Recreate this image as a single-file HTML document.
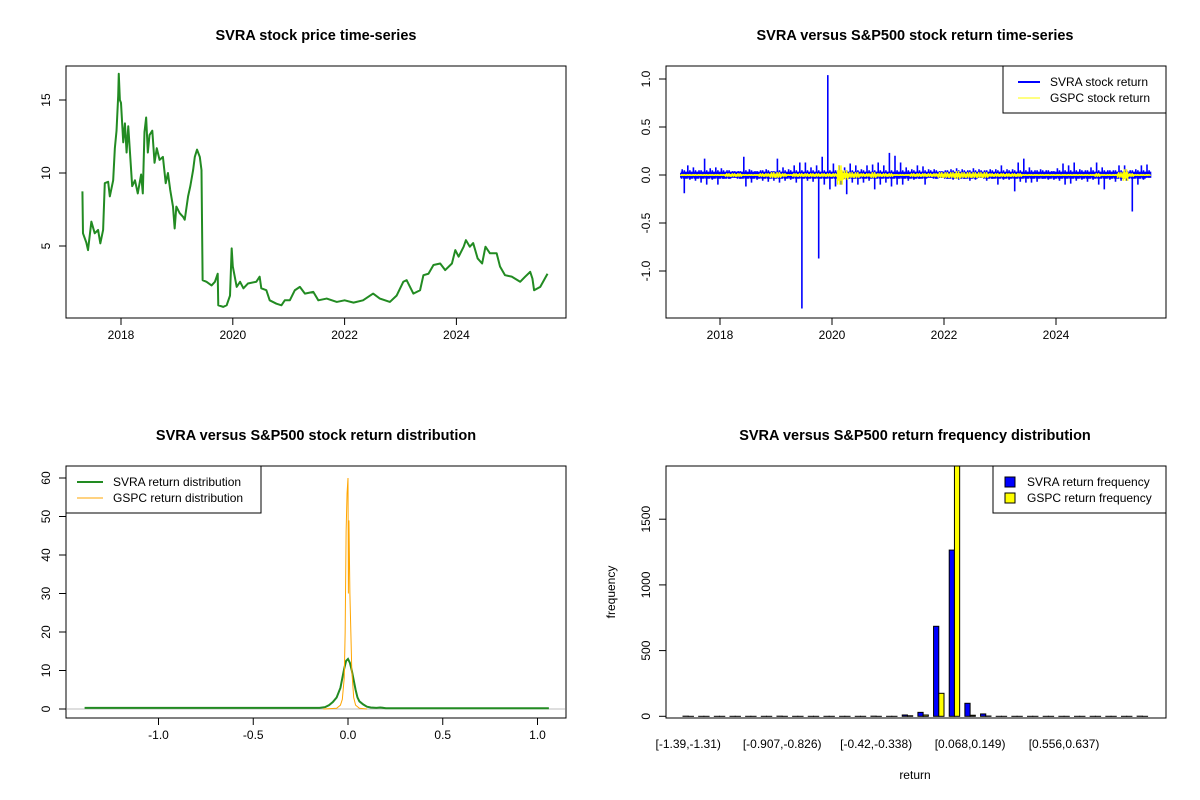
<!DOCTYPE html>
<html><head><meta charset="utf-8"><style>
html,body{margin:0;padding:0;background:#fff;}
svg{display:block;font-family:"Liberation Sans",Arial,sans-serif;}
</style></head><body>
<svg id="c" width="1200" height="800" viewBox="0 0 1200 800"></svg>
<script>
// ---- Panel 1: price data ----
const priceDates=[2017.31,2017.32,2017.38,2017.41,2017.47,2017.53,2017.59,2017.63,2017.68,2017.71,2017.77,2017.8,2017.86,2017.89,2017.92,2017.95,2017.96,2017.98,2018.0,2018.04,2018.07,2018.1,2018.13,2018.2,2018.25,2018.3,2018.36,2018.39,2018.42,2018.45,2018.48,2018.51,2018.56,2018.6,2018.64,2018.69,2018.75,2018.8,2018.84,2018.88,2018.93,2018.96,2018.99,2019.05,2019.11,2019.14,2019.2,2019.24,2019.29,2019.32,2019.36,2019.41,2019.44,2019.46,2019.53,2019.62,2019.68,2019.73,2019.74,2019.83,2019.89,2019.95,2019.98,2020.0,2020.07,2020.13,2020.19,2020.27,2020.42,2020.48,2020.51,2020.6,2020.66,2020.78,2020.87,2020.93,2021.02,2021.11,2021.2,2021.29,2021.44,2021.53,2021.68,2021.86,2022.0,2022.16,2022.33,2022.51,2022.63,2022.81,2022.93,2023.05,2023.11,2023.23,2023.35,2023.41,2023.5,2023.59,2023.71,2023.8,2023.92,2023.98,2024.04,2024.13,2024.17,2024.24,2024.3,2024.38,2024.46,2024.52,2024.6,2024.72,2024.78,2024.87,2024.99,2025.14,2025.23,2025.32,2025.36,2025.39,2025.5,2025.63];
const priceVals=[8.74,5.87,5.23,4.72,6.67,5.87,6.1,5.18,6.1,9.3,9.4,8.4,9.5,11.7,12.9,15.3,16.8,15.0,14.8,12.1,13.4,11.4,13.2,9.1,9.5,8.6,9.9,8.6,12.8,13.8,11.4,12.6,12.9,10.7,11.7,10.9,11.1,9.3,10.0,8.85,7.7,6.2,7.7,7.25,7.0,6.8,8.4,9.1,10.2,11.1,11.6,11.1,10.2,2.66,2.55,2.3,2.55,3.1,0.94,0.83,0.94,1.6,4.84,3.6,2.2,2.55,2.1,2.43,2.55,2.9,2.1,1.97,1.28,1.05,0.94,1.28,1.28,1.97,2.2,1.74,1.86,1.28,1.4,1.17,1.28,1.12,1.28,1.74,1.4,1.17,1.6,2.55,2.66,1.74,1.97,3.0,3.1,3.7,3.8,3.35,3.8,4.72,4.27,4.95,5.4,4.95,5.2,4.15,3.8,4.95,4.5,4.5,3.6,3.0,2.9,2.55,2.9,3.23,2.77,1.97,2.2,3.1];
const p1YTicks=[5,10,15];
const yearTicks=[2018,2020,2022,2024];
// ---- Panel 2: return ranges per 0.1-year bin starting 2017.3 ----
const retStart=2017.3, retStep=0.1;
const svraHi=[.06,.1,.08,.05,.17,.07,.08,.07,.05,.04,.04,.19,.06,.04,.05,.06,.04,.17,.08,.06,.1,.13,.13,.08,.1,.19,1.04,.12,.1,.08,.12,.1,.06,.1,.11,.13,.1,.23,.2,.13,.08,.06,.1,.09,.06,.06,.04,.05,.06,.07,.06,.05,.07,.06,.05,.06,.06,.1,.06,.06,.13,.17,.08,.05,.06,.05,.04,.07,.12,.1,.13,.06,.05,.08,.13,.08,.05,.05,.1,.1,.05,.06,.1,.11];
const svraLo=[-.19,-.05,-.06,-.08,-.1,-.05,-.1,-.04,-.04,-.03,-.04,-.12,-.08,-.05,-.06,-.07,-.06,-.08,-.06,-.05,-.08,-1.39,-.06,-.07,-.87,-.1,-.15,-.12,-.1,-.2,-.08,-.1,-.08,-.06,-.15,-.1,-.08,-.12,-.1,-.1,-.06,-.05,-.04,-.1,-.03,-.04,-.03,-.04,-.05,-.05,-.04,-.06,-.05,-.03,-.06,-.04,-.1,-.05,-.05,-.17,-.07,-.08,-.08,-.07,-.04,-.05,-.05,-.06,-.1,-.09,-.06,-.05,-.07,-.05,-.1,-.15,-.05,-.07,-.06,-.06,-.38,-.1,-.05,-.03];
const gspcAmp=[.01,.01,.01,.01,.01,.01,.01,.01,.02,.02,.02,.01,.01,.01,.02,.02,.03,.03,.02,.01,.02,.02,.02,.02,.02,.02,.02,.02,.1,.05,.03,.03,.02,.02,.03,.02,.02,.02,.01,.01,.01,.02,.02,.02,.02,.02,.03,.03,.03,.04,.03,.03,.03,.03,.03,.02,.02,.02,.02,.02,.02,.01,.01,.01,.01,.01,.01,.01,.01,.01,.01,.01,.01,.01,.02,.01,.01,.01,.03,.06,.02,.01,.01,.01];
const p2YTicks=[-1.0,-0.5,0.0,0.5,1.0];
// ---- Panel 3: densities ----
const svraDX=[-1.39,-0.15,-0.12,-0.1,-0.08,-0.06,-0.04,-0.03,-0.02,-0.01,0,0.01,0.02,0.03,0.04,0.05,0.06,0.08,0.1,0.12,0.15,0.17,0.2,1.06];
const svraDY=[0.3,0.3,0.5,1,1.8,3,5.5,8,10.5,12.5,13,12,10,7.5,5,3,2,1.2,0.6,0.4,0.3,0.4,0.2,0.2];
const gspcDX=[-0.13,-0.06,-0.04,-0.03,-0.02,-0.015,-0.01,-0.005,0,0.002,0.005,0.01,0.015,0.02,0.03,0.04,0.06,0.1];
const gspcDY=[0,0.2,1,2.5,8,20,46,56,60,30,49,30,20,10,3,1,0.2,0];
const p3XTicks=[-1.0,-0.5,0.0,0.5,1.0];
const p3YTicks=[0,10,20,30,40,50,60];
// ---- Panel 4: histogram counts ----
const binLabels=["[-1.39,-1.31)","[-0.907,-0.826)","[-0.42,-0.338)","[0.068,0.149)","[0.556,0.637)"];
const binLabelIdx=[0,6,12,18,24];
const svraFreq=[1,0,0,0,0,0,1,0,0,0,0,0,1,0,10,30,685,1265,99,18,0,0,0,0,0,0,0,0,0,1];
const gspcFreq=[0,0,0,0,0,0,0,0,0,0,0,0,0,0,4,10,175,2000,8,2,0,0,0,0,0,0,0,0,0,0];
const p4YTicks=[0,500,1000,1500];

const svg=document.getElementById('c');
const NS='http://www.w3.org/2000/svg';
function mk(tag,attrs,parent){const e=document.createElementNS(NS,tag);for(const k in attrs)e.setAttribute(k,attrs[k]);(parent||svg).appendChild(e);return e;}
function txt(s,x,y,opts,parent){const t=mk('text',Object.assign({x:x,y:y,'font-size':12,'text-anchor':'middle',fill:'#000'},opts||{}),parent);t.textContent=s;return t;}
function box(x0,y0,x1,y1,name){const r=mk('rect',{x:x0,y:y0,width:x1-x0,height:y1-y0,fill:'none',stroke:'#000','stroke-width':1});

}
function yTicks(vals,fy,x0,labels,name){const g=mk('g',{});


vals.forEach((v,i)=>{const y=fy(v);mk('line',{x1:x0-7,x2:x0,y1:y,y2:y,stroke:'#000'},g);
txt(labels?labels[i]:String(v),x0-16,y,{transform:`rotate(-90 ${x0-16} ${y})`},g);});}
function xTicks(vals,fx,y0,labels,name){const g=mk('g',{});


vals.forEach((v,i)=>{const x=fx(v);mk('line',{x1:x,x2:x,y1:y0,y2:y0+7,stroke:'#000'},g);txt(labels?labels[i]:String(v),x,y0+21,{},g);});}
function title(s,cx,name){const t=txt(s,cx,40,{'font-size':14.5,'font-weight':'bold'});

return t;}

// ===== Panel 1 =====
const p1x=d=>121+(d-2018)*55.9, p1y=p=>246-(p-5)*14.6;
title('SVRA stock price time-series',316,'price-chart-title');
box(66,66,566,318,'price-plot-frame');
{const pts=priceDates.map((t,i)=>`${p1x(t)},${p1y(priceVals[i])}`).join(' ');
const pl=mk('polyline',{points:pts,fill:'none',stroke:'#228B22','stroke-width':2,'stroke-linejoin':'round'});

}
yTicks(p1YTicks,p1y,66,null,'price-y-axis');
xTicks(yearTicks,p1x,318,null,'price-x-axis');

// ===== Panel 2 =====
const p2x=d=>720+(d-2018)*56, p2y=v=>175-v*96;
title('SVRA versus S&P500 stock return time-series',915,'return-chart-title');
box(666,66,1166,318,'return-plot-frame');
{const g=mk('g',{});


let d='';svraHi.forEach((h,i)=>{const t=retStart+i*retStep;const n=8;for(let k=0;k<n;k++){const x=p2x(t+k*retStep/n);const hi=k===2?h:Math.min(h,0.02+0.015*(k%3));const lo=k===5?svraLo[i]:Math.max(svraLo[i],-0.015-0.012*((k+1)%3));d+=`M${x},${p2y(hi)}V${p2y(lo)}`;}});
mk('path',{d:d,stroke:'#0000FF','stroke-width':1.6,fill:'none'},g);
const g2=mk('g',{});


let d2='';gspcAmp.forEach((a,i)=>{const t=retStart+i*retStep;for(let k=0;k<5;k++){const x=p2x(t+k*retStep/5);d2+=`M${x},${p2y(k%2?a:a*0.5)}V${p2y(k%2?-a*0.6:-a)}`;}});
mk('path',{d:d2,stroke:'#FFFF00','stroke-width':1.5,fill:'none'},g2);
mk('line',{x1:p2x(retStart),x2:p2x(2025.65),y1:p2y(0),y2:p2y(0),stroke:'#FFFF00','stroke-width':1.5},g2);}
yTicks(p2YTicks,p2y,666,['-1.0','-0.5','0.0','0.5','1.0'],'return-y-axis');
xTicks(yearTicks,p2x,318,null,'return-x-axis');
{const g=mk('g',{});


mk('rect',{x:1003,y:66,width:163,height:47,fill:'#fff',stroke:'#000'},g);
mk('line',{x1:1018,x2:1040,y1:82,y2:82,stroke:'#0000FF','stroke-width':2},g);
mk('line',{x1:1018,x2:1040,y1:98,y2:98,stroke:'#FFFF00','stroke-width':1},g);
txt('SVRA stock return',1050,86,{'text-anchor':'start'},g);
txt('GSPC stock return',1050,102,{'text-anchor':'start'},g);}

// ===== Panel 3 =====
const p3x=v=>348+v*189.5, p3y=d=>709-d*3.85;
title('SVRA versus S&P500 stock return distribution',316,'distribution-chart-title').setAttribute('y',440);
box(66,466,566,718,'distribution-plot-frame');
{const ab=mk('line',{x1:67,x2:565,y1:p3y(0),y2:p3y(0),stroke:'#BEBEBE','stroke-width':1});


const pts=svraDX.map((x,i)=>`${p3x(x)},${p3y(svraDY[i])}`).join(' ');
const l=mk('polyline',{points:pts,fill:'none',stroke:'#228B22','stroke-width':2});


const pts2=gspcDX.map((x,i)=>`${p3x(x)},${p3y(gspcDY[i])}`).join(' ');
const l2=mk('polyline',{points:pts2,fill:'none',stroke:'#FFA500','stroke-width':1});

}
yTicks(p3YTicks,p3y,66,null,'distribution-y-axis');
xTicks(p3XTicks,p3x,718,['-1.0','-0.5','0.0','0.5','1.0'],'distribution-x-axis');
{const g=mk('g',{});


mk('rect',{x:66,y:466,width:195,height:47,fill:'#fff',stroke:'#000'},g);
mk('line',{x1:77,x2:103,y1:482,y2:482,stroke:'#228B22','stroke-width':2},g);
mk('line',{x1:77,x2:103,y1:498,y2:498,stroke:'#FFA500','stroke-width':1},g);
txt('SVRA return distribution',113,486,{'text-anchor':'start'},g);
txt('GSPC return distribution',113,502,{'text-anchor':'start'},g);}

// ===== Panel 4 =====
const unit=5.22, barX0=683;
const p4y=v=>716.3-v*0.1314;
const gx=k=>barX0+3*k*unit;
title('SVRA versus S&P500 return frequency distribution',915,'frequency-chart-title').setAttribute('y',440);
{const cp=mk('clipPath',{id:'p4clip'});mk('rect',{x:666,y:466,width:500,height:252},cp);
const g=mk('g',{'clip-path':'url(#p4clip)'});


svraFreq.forEach((v,k)=>{const x=gx(k);const y=p4y(v);
const b=mk('rect',{x:x,y:y,width:unit,height:Math.max(p4y(0)-y,0.01),fill:'#0000FF',stroke:'#000','stroke-width':1},g);


const y2=p4y(gspcFreq[k]);
const b2=mk('rect',{x:x+unit,y:y2,width:unit,height:Math.max(p4y(0)-y2,0.01),fill:'#FFFF00',stroke:'#000','stroke-width':1},g);

});}
box(666,466,1166,718,'frequency-plot-frame');
yTicks(p4YTicks,p4y,666,null,'frequency-y-axis');
{const g=mk('g',{});


binLabelIdx.forEach((k,i)=>txt(binLabels[i],gx(k)+unit,748,{},g));}
{const t=txt('frequency',615,592,{transform:'rotate(-90 615 592)'});


const t2=txt('return',915,779);

}
{const g=mk('g',{});


mk('rect',{x:993,y:466,width:173,height:47,fill:'#fff',stroke:'#000'},g);
mk('rect',{x:1005,y:477,width:10,height:10,fill:'#0000FF',stroke:'#000'},g);
mk('rect',{x:1005,y:493,width:10,height:10,fill:'#FFFF00',stroke:'#000'},g);
txt('SVRA return frequency',1027,486,{'text-anchor':'start'},g);
txt('GSPC return frequency',1027,502,{'text-anchor':'start'},g);}
</script>
</body></html>
